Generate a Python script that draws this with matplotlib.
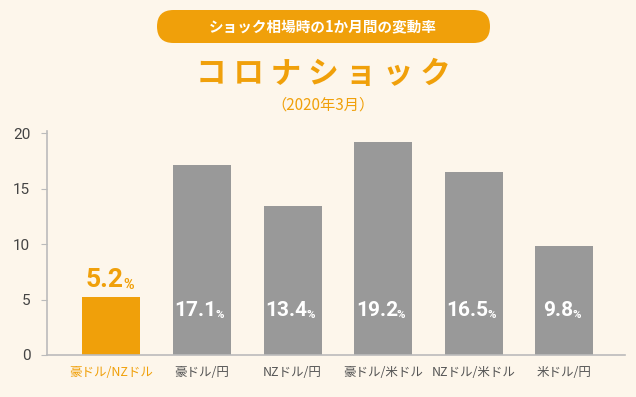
import matplotlib.pyplot as plt
from matplotlib.patches import FancyBboxPatch

# data
pairs = ['豪ドル/NZドル', '豪ドル/円', 'NZドル/円', '豪ドル/米ドル', 'NZドル/米ドル', '米ドル/円']
rates = [5.2, 17.1, 13.4, 19.2, 16.5, 9.8]
yticks = [0, 5, 10, 15, 20]

bg = '#fdf6eb'
orange = '#f0a00a'
gray = '#999999'
jp = ['Noto Sans CJK JP', 'DejaVu Sans']
num = ['Roboto', 'DejaVu Sans']

fig = plt.figure(figsize=(6.36, 3.97), dpi=100, facecolor=bg)
ax = fig.add_axes([0.0739, 0.1058, 0.909, 0.564])
ax.set_facecolor(bg)

x = list(range(len(rates)))
colors = [orange] + [gray] * (len(rates) - 1)
ax.bar(x, rates, width=0.64, color=colors, zorder=2)

ax.set_xlim(-0.71, 5.67)
ax.set_ylim(0, 20.2)
ax.set_yticks(yticks)
ax.set_yticklabels([str(t) for t in yticks], fontfamily=num, fontsize=11, color='#444444')
ax.set_xticks(x)
ax.set_xticklabels(pairs, fontfamily=jp, fontsize=9)
for i, lab in enumerate(ax.get_xticklabels()):
    lab.set_color(orange if i == 0 else '#555555')
ax.tick_params(axis='x', length=0, pad=8)
ax.tick_params(axis='y', length=4, color='#bbbbbb', pad=8)
for s in ['top', 'right']:
    ax.spines[s].set_visible(False)
for s in ['left', 'bottom']:
    ax.spines[s].set_color('#bbbbbb')
    ax.spines[s].set_linewidth(1.2)

# value labels: number + small %
fig.canvas.draw()
r = fig.canvas.get_renderer()
for i, v in enumerate(rates):
    if i == 0:
        y, c, fs = v + 1.6, orange, 19
    else:
        y, c, fs = 4.0, 'white', 15
    t = ax.text(i - 0.07, y, f'{v}', ha='center', va='center', color=c,
                fontsize=fs, fontweight='bold', fontfamily=num, zorder=3)
    bb = t.get_window_extent(r)
    px, py = ax.transData.inverted().transform((bb.x1, bb.y0))
    ax.text(px - 0.012, py, '%', ha='left', va='bottom', color=c,
            fontsize=fs * 0.55, fontweight='bold', fontfamily=num, zorder=3,
            transform=ax.transData)

# header badge (pill)
badge = FancyBboxPatch((1.57, 3.54), 3.33, 0.33,
                       boxstyle='round,pad=0,rounding_size=0.165',
                       transform=fig.dpi_scale_trans, facecolor=orange, edgecolor='none')
fig.patches.append(badge)
fig.text(323 / 636, 1 - 26 / 397, 'ショック相場時の1か月間の変動率', ha='center', va='center',
         color='white', fontsize=10.5, fontweight='bold', fontfamily=jp)
fig.text(323 / 636, 1 - 74 / 397, 'コ ロ ナ シ ョ ッ ク', ha='center', va='center',
         color=orange, fontsize=22, fontweight='bold', fontfamily=jp)
fig.text(323 / 636, 1 - 105 / 397, '（2020年3月）', ha='center', va='center',
         color=orange, fontsize=11, fontfamily=jp)

fig.savefig('out.png', dpi=100, facecolor=bg)
